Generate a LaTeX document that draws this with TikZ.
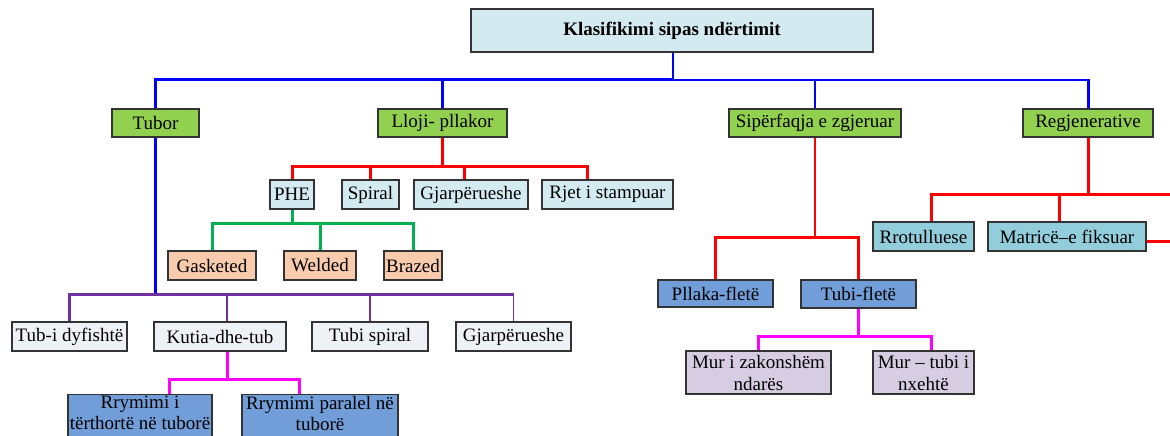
\documentclass[tikz,border=0pt]{standalone}
\usepackage{fontspec}
\setmainfont{Liberation Serif}
\begin{document}
\definecolor{paleblue}{RGB}{210,234,240}
\definecolor{leaf}{RGB}{146,208,80}
\definecolor{peach}{RGB}{248,203,173}
\definecolor{mist}{RGB}{238,241,246}
\definecolor{midblue}{RGB}{113,158,216}
\definecolor{lavender}{RGB}{215,205,226}
\definecolor{aqua}{RGB}{146,205,220}
\definecolor{lineblue}{RGB}{0,0,255}
\definecolor{linered}{RGB}{255,0,0}
\definecolor{linegreen}{RGB}{0,176,80}
\definecolor{linepurple}{RGB}{112,48,160}
\definecolor{linemagenta}{RGB}{255,0,255}
\begin{tikzpicture}[x=1pt,y=-1pt,
  box/.style={draw=black!80, line width=1.2pt, rectangle, inner sep=0pt,
    align=center, font=\fontsize{19}{22}\selectfont},
  lowbox/.style={box, fill=midblue, anchor=north, minimum height=50pt},
  lowtext/.style={anchor=north, inner sep=0pt, align=center,
    font=\fontsize{19}{21}\selectfont},
  blueT/.style={draw=lineblue, line width=3pt},
  blueN/.style={draw=lineblue, line width=1.6pt},
  redT/.style={draw=linered, line width=3pt},
  redN/.style={draw=linered, line width=1.8pt},
  greenT/.style={draw=linegreen, line width=3pt},
  purT/.style={draw=linepurple, line width=3pt},
  purN/.style={draw=linepurple, line width=1.3pt},
  magT/.style={draw=linemagenta, line width=3pt}]
\useasboundingbox (0,0) rectangle (1170,436);
\clip (0,0) rectangle (1170,436);

% root
\node[box, fill=paleblue, minimum width=402pt, minimum height=43pt,
  font=\fontsize{19}{22}\selectfont\bfseries] (title) at (672,30.5) {Klasifikimi sipas ndërtimit};

% first level
\node[box, fill=leaf, minimum width=87pt, minimum height=28pt] (tubor) at (155.5,123) {Tubor};
\node[box, fill=leaf, minimum width=129pt, minimum height=28pt] (lloji) at (442.5,123) {Lloji- pllakor};
\node[box, fill=leaf, minimum width=172pt, minimum height=28pt] (siper) at (815,123) {Sipërfaqja e zgjeruar};
\node[box, fill=leaf, minimum width=130pt, minimum height=28pt] (regj) at (1088,123) {Regjenerative};

% plate types
\node[box, fill=paleblue, minimum width=44pt, minimum height=29pt] (phe) at (292,194.5) {PHE};
\node[box, fill=paleblue, minimum width=57pt, minimum height=29pt] (spiral) at (370.5,194.5) {Spiral};
\node[box, fill=paleblue, minimum width=114pt, minimum height=29pt] (gjarpA) at (471,194.5) {Gjarpërueshe};
\node[box, fill=paleblue, minimum width=131pt, minimum height=29pt] (rjet) at (607.5,194.5) {Rjet i stampuar};

% PHE variants
\node[box, fill=peach, minimum width=88pt, minimum height=29pt] (gasket) at (212,265.5) {Gasketed};
\node[box, fill=peach, minimum width=72pt, minimum height=29pt] (welded) at (320,265.5) {Welded};
\node[box, fill=peach, minimum width=58pt, minimum height=29pt] (brazed) at (413,265.5) {Brazed};

% tube types
\node[box, fill=mist, minimum width=115pt, minimum height=29pt] (dyf) at (69.5,336.5) {Tub-i dyfishtë};
\node[box, fill=mist, minimum width=132pt, minimum height=29pt] (kutia) at (220,336.5) {Kutia-dhe-tub};
\node[box, fill=mist, minimum width=116pt, minimum height=29pt] (tubisp) at (370,336.5) {Tubi spiral};
\node[box, fill=mist, minimum width=115pt, minimum height=29pt] (gjarpB) at (513.5,336.5) {Gjarpërueshe};

% shell-and-tube flow (boxes run past the lower edge)
\node[lowbox, minimum width=144pt] (rrymA) at (140,394) {};
\node[lowtext] (rrymAtext) at ([yshift=-2pt]rrymA.north) {Rrymimi i\\tërthortë në tuborë};
\node[lowbox, minimum width=156pt] (rrymB) at (320,394) {};
\node[lowtext] (rrymBtext) at ([yshift=-2pt]rrymB.north) {Rrymimi paralel në\\tuborë};

% extended surface
\node[box, fill=midblue, minimum width=115pt, minimum height=27pt] (pllaka) at (715.5,293.5) {Pllaka-fletë};
\node[box, fill=midblue, minimum width=115pt, minimum height=28pt] (tubifl) at (858.5,294) {Tubi-fletë};
\node[box, fill=lavender, minimum width=145pt, minimum height=43pt] (murA) at (758.5,372.5) {Mur i zakonshëm\\ndarës};
\node[box, fill=lavender, minimum width=101pt, minimum height=43pt] (murB) at (923.5,372.5) {Mur – tubi i\\nxehtë};

% regenerative
\node[box, fill=aqua, minimum width=101pt, minimum height=29pt] (rrot) at (923.5,236.5) {Rrotulluese};
\node[box, fill=aqua, minimum width=158pt, minimum height=29pt] (matr) at (1067,236.5) {Matricë–e fiksuar};

% bus lines
\coordinate (busA) at (0,80);
\coordinate (busP) at (0,294);
\coordinate (busR1) at (0,166);
\coordinate (busG) at (0,223);
\coordinate (busR2) at (0,237);
\coordinate (busM2) at (0,336);
\coordinate (busM1) at (0,379);
\coordinate (busR3) at (0,194);
\coordinate (redend) at (1172,194);
\coordinate (redend2) at (1172,241);

% root to first level
\draw[blueN] (title.south |- busA) -| (regj.north);
\draw[blueN] (siper.north) -- (siper.north |- busA);
\draw[blueT] (regj.north) -- ([yshift=1pt]regj.north |- busA);
\draw[blueT] (tubor.north) |- ([xshift=1pt]title.south |- busA);
\draw[draw=lineblue, line width=2.5pt] ([xshift=1pt]title.south) -- ([xshift=1pt,yshift=-1.5pt]title.south |- busA);
\draw[blueT] (lloji.north) -- (lloji.north |- busA);

% tube branch
\draw[blueT] (tubor.south) -- (tubor.south |- busP);
\draw[purT] (dyf.north) |- (gjarpB.north |- busP);
\draw[purN] ([xshift=7pt]kutia.north) -- ([xshift=7pt]kutia.north |- busP);
\draw[purN] (tubisp.north) -- (tubisp.north |- busP);
\draw[draw=linepurple, line width=1.6pt] (gjarpB.north) -- (gjarpB.north |- busP);
\draw[magT] ([xshift=7pt]kutia.south) -- ([xshift=7pt]kutia.south |- busM1);
\draw[magT] ([xshift=29pt]rrymA.north) |- ([xshift=-21pt]rrymB.north |- busM1) -- ([xshift=-21pt]rrymB.north);

% plate branch
\draw[redT] (lloji.south) -- (lloji.south |- busR1);
\draw[redT] (phe.north) |- ([xshift=-20pt]rjet.north |- busR1) -- ([xshift=-20pt]rjet.north);
\draw[redT] (spiral.north) -- (spiral.north |- busR1);
\draw[redT] ([xshift=-7pt]gjarpA.north) -- ([xshift=-7pt]gjarpA.north |- busR1);
\draw[greenT] (phe.south) -- (phe.south |- busG);
\draw[greenT] (gasket.north) |- (brazed.north |- busG) -- (brazed.north);
\draw[greenT] (welded.north) -- (welded.north |- busG);

% extended surface branch
\draw[redN] (siper.south) -- (siper.south |- busR2);
\draw[redT] (pllaka.north) |- (tubifl.north |- busR2) -- (tubifl.north);
\draw[magT] (tubifl.south) -- (tubifl.south |- busM2);
\draw[magT] (murA.north) |- ([xshift=7.5pt]murB.north |- busM2) -- ([xshift=7.5pt]murB.north);

% regenerative branch
\draw[redT] (regj.south) -- (regj.south |- busR3);
\draw[redT] ([xshift=7.5pt]rrot.north) |- (redend);
\draw[redT] ([xshift=-8pt]matr.north) -- ([xshift=-8pt]matr.north |- busR3);
\draw[redT] (matr.east |- redend2) -- (redend2);
\end{tikzpicture}
\end{document}
